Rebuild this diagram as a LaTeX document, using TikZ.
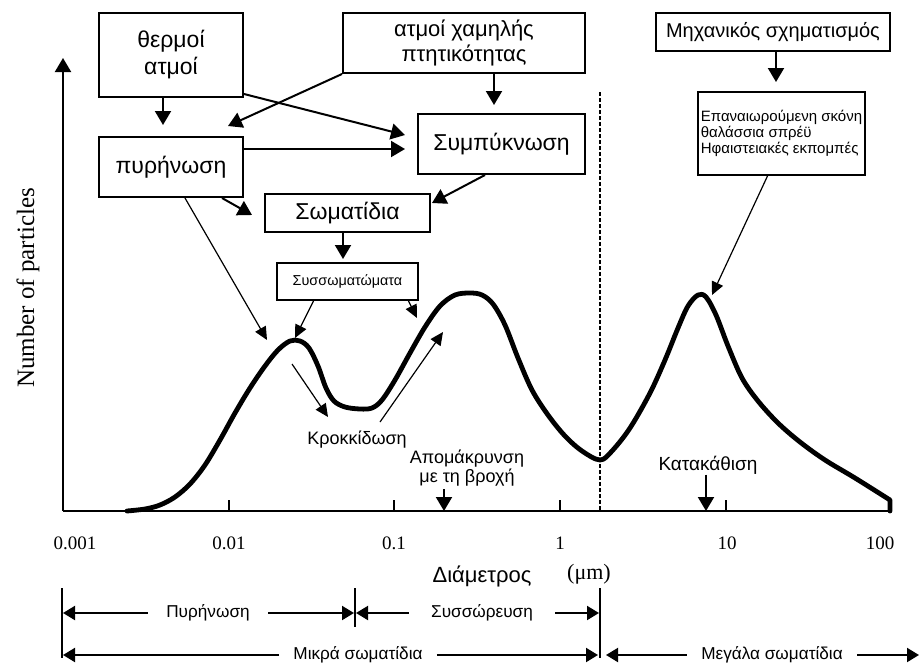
\documentclass[tikz,border=0pt]{standalone}
\usepackage{fontspec}
\setmainfont{Liberation Sans}
\newfontfamily\timesf{Liberation Serif}
\usetikzlibrary{arrows.meta}
\begin{document}
\begin{tikzpicture}[x=0.5pt,y=-0.5pt,
 box/.style={draw,line width=1pt,inner sep=0pt,align=center},
 bigtxt/.style={font=\fontsize{11.5}{13.5}\selectfont},
 arr/.style={line width=1pt,-{Triangle[length=7pt,width=8pt]}},
 thinarr/.style={line width=0.6pt,-{Triangle[length=6.5pt,width=6pt]}},
 lbl/.style={inner sep=0pt,font=\fontsize{9}{8.5}\selectfont},
 barr/.style={line width=1pt,-{Triangle[length=6pt,width=7pt]}},
 blbl/.style={inner ysep=0pt,font=\fontsize{8.6}{10}\selectfont},
 num/.style={inner sep=0pt,font=\timesf\fontsize{9.5}{11}\selectfont},
]
\useasboundingbox (0,0) rectangle (921,664);

% boxes
\node[box,bigtxt,minimum width=72pt,minimum height=42pt] (thermoi) at (171,55) {θερμοί\\ατμοί};
\node[box,font=\fontsize{11}{12.5}\selectfont,minimum width=121pt,minimum height=30pt] (atmoix) at (464,43) {ατμοί χαμηλής\\πτητικότητας};
\node[box,bigtxt,minimum width=72pt,minimum height=30pt] (pyr) at (171,167) {πυρήνωση};
\node[box,bigtxt,minimum width=83.5pt,minimum height=30pt] (sympyk) at (501.5,144) {Συμπύκνωση};
\node[box,bigtxt,minimum width=82.5pt,minimum height=19pt] (somat) at (347.5,213) {Σωματίδια};
\node[box,minimum width=70.5pt,minimum height=18.5pt,font=\fontsize{7.2}{8}\selectfont] (syssom) at (347.5,281.5) {Συσσωματώματα};
\node[box,minimum width=117pt,minimum height=19pt,font=\fontsize{10}{12}\selectfont] (mech) at (773,32) {Μηχανικός σχηματισμός};
\node[box,minimum width=83.5pt,minimum height=41.5pt,align=left,font=\fontsize{7.5}{8}\selectfont] (epan) at (781.5,133.5) {Επαναιωρούμενη σκόνη\\θαλάσσια σπρέϋ\\Ηφαιστειακές εκπομπές};

% connector end points
\coordinate (t1) at (163,125);
\coordinate (t2) at (228,126);
\coordinate (t3) at (405,135);
\coordinate (t4) at (405,149);
\coordinate (t5) at (494,105);
\coordinate (t6) at (432,203);
\coordinate (t7) at (252,215);
\coordinate (t8) at (267,340);
\coordinate (t9) at (343,259);
\coordinate (t10) at (295,338);
\coordinate (t11) at (417,318);
\coordinate (t13) at (776,82);
\coordinate (t14) at (712,295);

\draw[arr] (thermoi.south -| t1) -- (t1);
\draw[arr] (atmoix.south west) -- (t2);
\draw[arr] ([yshift=2pt]thermoi.south east) -- (t3);
\draw[arr] (pyr.east |- t4) -- (t4);
\draw[arr] (atmoix.south -| t5) -- (t5);
\draw[arr] ([xshift=-8.25pt]sympyk.south) -- (t6);
\draw[arr] ([xshift=25.5pt]pyr.south) -- (t7);
\draw[thinarr] ([xshift=7pt]pyr.south) -- (t8);
\draw[arr] (somat.south -| t9) -- (t9);
\draw[thinarr] ([xshift=-17pt]syssom.south) -- (t10);
\draw[thinarr] ([xshift=30.5pt]syssom.south) -- (t11);
\draw[arr] (mech.south -| t13) -- (t13);
\draw[thinarr] ([xshift=-7pt]epan.south) -- (t14);

% axes
\coordinate (O) at (63,511);
\coordinate (ytop) at (63,58);
\coordinate (xend) at (892,511);
\draw[line width=1pt,-{Triangle[length=7pt,width=8pt]}] (O) -- (ytop);
\draw[line width=1pt] (O) -- (xend);
\foreach \x in {229,394,560,726} \draw[line width=0.8pt] (\x,511) -- (\x,500);

\node[num] (n1) at (75,543) {0.001};
\node[num] (n2) at (229,543) {0.01};
\node[num] (n3) at (394,543) {0.1};
\node[num] (n4) at (560,543) {1};
\node[num] (n5) at (727,543) {10};
\node[num] (n6) at (880,543) {100};

\node[inner sep=0pt,font=\fontsize{11}{13}\selectfont] (dlab) at (482,576) {Διάμετρος};
\node[inner sep=0pt,font=\timesf\fontsize{11}{13}\selectfont] (um) at (589,574) {(μm)};
\node[rotate=90,inner sep=0pt,font=\timesf\fontsize{12.5}{14}\selectfont] (ylab) at (28,288) {Number of particles};

% dashed divider
\draw[line width=1pt,dash pattern=on 2pt off 1pt] (600,92) -- (600,511);

% size distribution curve
\draw[line width=2.4pt,line join=round,line cap=round] plot[smooth,tension=0.55] coordinates {
(127,511) (145,509) (160,505) (175,497) (190,484) (205,465) (220,440) (235,413)
(250,388) (265,366) (278,350) (290,341) (300,341) (309,348) (318,366) (326,388)
(334,401) (345,407) (360,409) (372,408) (382,400) (395,380) (410,353) (425,327)
(440,306) (455,295) (470,293) (482,295) (493,304) (505,325) (518,358) (532,390)
(548,415) (565,436) (582,451) (600,460) (612,451) (630,428) (650,393) (665,360)
(678,328) (688,306) (698,295) (706,297) (716,315) (728,346) (742,378) (758,401)
(778,423) (800,442) (825,460) (855,478) (890,500)} -- (890,511);

% process labels on the curve
\node[lbl] (krok) at (357,440) {Κροκκίδωση};
\coordinate (k1a) at (292,364); \coordinate (k1b) at (328,417);
\coordinate (k2a) at (380,422); \coordinate (k2b) at (443,332);
\draw[thinarr] (k1a) -- (k1b);
\draw[thinarr] (k2a) -- (k2b);

\node[lbl,align=center] (apom) at (467,468) {Απομάκρυνση\\με τη βροχή};
\coordinate (a1) at (444,511);
\draw[arr] (444,489) -- (a1);
\node[lbl,font=\fontsize{9.5}{11}\selectfont] (katak) at (708,465) {Κατακάθιση};
\coordinate (a2) at (706,511);
\draw[arr] (katak.south -| a2) -- (a2);

% bottom range bars
\draw[line width=1pt] (62,588) -- (62,658);
\draw[line width=0.8pt] (355,588) -- (355,627);
\draw[line width=1pt] (600,588) -- (600,658);

\coordinate (r1a) at (63,613); \coordinate (r1b) at (354,613);
\coordinate (r1c) at (356,613); \coordinate (r1d) at (599,613);
\coordinate (r2a) at (63,655); \coordinate (r2b) at (598,655);
\coordinate (r2c) at (606,655); \coordinate (r2d) at (919,655);

\node[blbl,inner xsep=9pt] (bp) at (208,613) {Πυρήνωση};
\node[blbl,inner xsep=11pt] (bs) at (482,613) {Συσσώρευση};
\node[blbl,inner xsep=7pt] (bm) at (358,655) {Μικρά σωματίδια};
\node[blbl,inner xsep=7pt] (bg) at (772,655) {Μεγάλα σωματίδια};
\draw[barr] (bp.west) -- (r1a);
\draw[barr] (bp.east) -- (r1b);
\draw[barr] (bs.west) -- (r1c);
\draw[barr] (bs.east) -- (r1d);
\draw[barr] (bm.west) -- (r2a);
\draw[barr] (bm.east) -- (r2b);
\draw[barr] (bg.west) -- (r2c);
\draw[barr] (bg.east) -- (r2d);
\end{tikzpicture}
\end{document}
